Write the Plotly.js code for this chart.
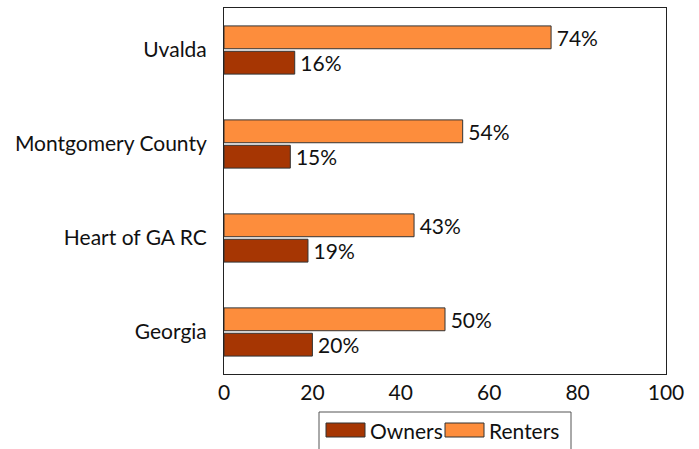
<!DOCTYPE html>
<html>
<head>
<meta charset="utf-8">
<script src="https://cdn.plot.ly/plotly-3.0.1.min.js"></script>
<style>html,body{margin:0;padding:0;background:#fff}#chart{width:699px;height:449px}</style>
</head>
<body>
<div id="chart"></div>
<script>
const categories = ["Georgia", "Heart of GA RC", "Montgomery County", "Uvalda"];
const owners = [20, 19, 15, 16];
const renters = [50, 43, 54, 74];
const seriesNames = ["Owners", "Renters"];
const seriesColors = ["#A63603", "#FD8D3C"];
const xTicks = [0, 20, 40, 60, 80, 100];

const fontFam = "Lato, 'DejaVu Sans', sans-serif";
const fs = 21;
const common = {
  type: 'bar', orientation: 'h', y: categories,
  textposition: 'outside', cliponaxis: false, constraintext: 'none',
  textfont: {family: fontFam, size: 21, color: '#111'},
  hoverinfo: 'none', showlegend: false
};
const data = [
  Object.assign({}, common, {
    name: seriesNames[0], x: owners, text: owners.map(v => '\u2009' + v + '%'),
    marker: {color: seriesColors[0], line: {color: '#333', width: 1}}
  }),
  Object.assign({}, common, {
    name: seriesNames[1], x: renters, text: renters.map(v => '\u2009' + v + '%'),
    marker: {color: seriesColors[1], line: {color: '#333', width: 1}}
  })
];

// Custom legend (paper coordinates)
const L = 224, W = 442, B = 374, H = 366;
const px = v => (v - L) / W, py = v => (B - v) / H;
const shapes = [
  {type: 'rect', xref: 'paper', yref: 'paper', x0: px(319), x1: px(571), y0: py(460), y1: py(412),
   line: {color: '#555', width: 1}, fillcolor: '#fff', layer: 'below'},
  {type: 'rect', xref: 'paper', yref: 'paper', x0: px(326), x1: px(365), y0: py(437), y1: py(423),
   line: {color: '#333', width: 1}, fillcolor: seriesColors[0]},
  {type: 'rect', xref: 'paper', yref: 'paper', x0: px(445), x1: px(484), y0: py(437), y1: py(423),
   line: {color: '#333', width: 1}, fillcolor: seriesColors[1]}
];
const annotations = [
  {xref: 'paper', yref: 'paper', x: px(368), y: py(430), xanchor: 'left', yanchor: 'middle',
   text: seriesNames[0], showarrow: false, font: {family: fontFam, size: fs, color: '#111'}},
  {xref: 'paper', yref: 'paper', x: px(487), y: py(430), xanchor: 'left', yanchor: 'middle',
   text: seriesNames[1], showarrow: false, font: {family: fontFam, size: fs, color: '#111'}}
];

const layout = {
  width: 699, height: 449,
  margin: {l: 224, r: 33, t: 8, b: 75},
  paper_bgcolor: '#fff', plot_bgcolor: '#fff',
  font: {family: fontFam, size: fs, color: '#111'},
  barmode: 'group', bargap: 0.46, bargroupgap: 0.1,
  showlegend: false,
  shapes: shapes, annotations: annotations,
  xaxis: {range: [0, 100], tickvals: xTicks, ticktext: xTicks.map(String),
    showgrid: false, zeroline: false, showline: true, mirror: true, automargin: false,
    linecolor: '#222', linewidth: 1, ticks: '', tickfont: {size: fs}},
  yaxis: {type: 'category', categoryorder: 'array', categoryarray: categories,
    range: [-0.447, 3.447], showgrid: false, zeroline: false, showline: true,
    mirror: true, linecolor: '#222', linewidth: 1, ticks: '', ticklabelstandoff: 12,
    tickfont: {size: fs}, automargin: false}
};
Plotly.newPlot('chart', data, layout, {displayModeBar: false, staticPlot: true});
</script>
</body>
</html>
